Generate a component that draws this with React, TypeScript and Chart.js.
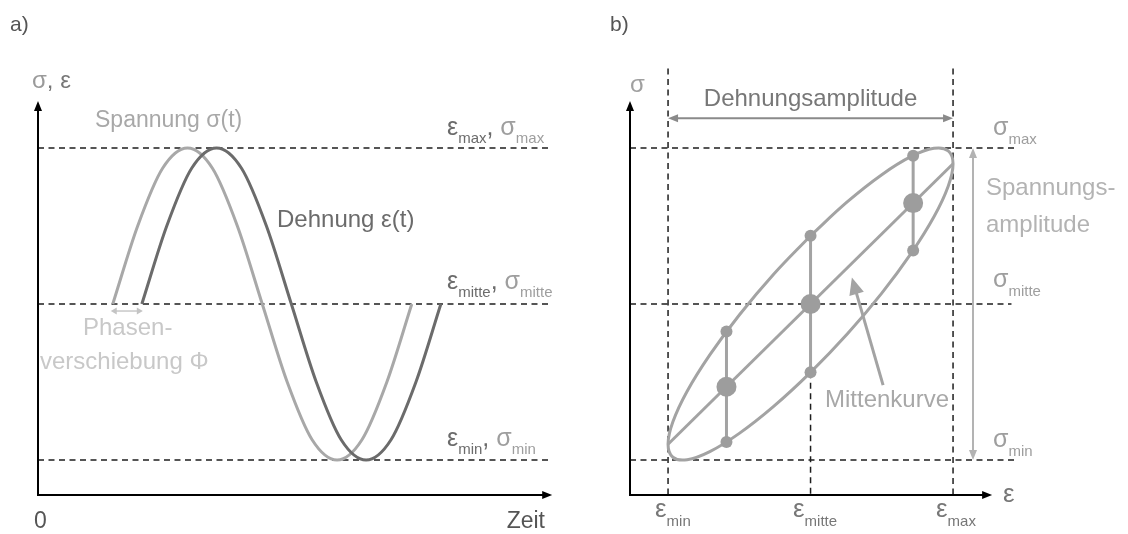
import { useEffect, useRef } from "react";
import { Chart, registerables } from "chart.js";

Chart.register(...registerables);

// ---------- a) Zeitverlauf (Zeitachse als Phasenwinkel in Grad) ----------
const zeitSpannung = [90, 120, 150, 180, 210, 240, 270, 300, 330, 360, 390, 420, 450];
const spannungVerlauf = [0, 0.5, 0.87, 1, 0.87, 0.5, 0, -0.5, -0.87, -1, -0.87, -0.5, 0];
const phasenVerschiebung = 35; // Grad, Dehnung eilt der Spannung nach
const dehnungVerlauf = [0, 0.5, 0.87, 1, 0.87, 0.5, 0, -0.5, -0.87, -1, -0.87, -0.5, 0];
const niveaus = [1, 0, -1];
const niveauNamen = ["max", "mitte", "min"];
const zeitLinienEnde = 614;

// ---------- b) Hystereseschleife sigma über epsilon ----------
const schleifeDehnung = [
  0, 0.259, 0.5, 0.707, 0.866, 0.966, 1, 0.966, 0.866, 0.707, 0.5, 0.259,
  0, -0.259, -0.5, -0.707, -0.866, -0.966, -1, -0.966, -0.866, -0.707, -0.5, -0.259, 0,
];
const schleifeSpannung = [
  0.438, 0.656, 0.829, 0.946, 0.998, 0.982, 0.899, 0.755, 0.559, 0.326, 0.07, -0.191,
  -0.438, -0.656, -0.829, -0.946, -0.998, -0.982, -0.899, -0.755, -0.559, -0.326, -0.07, 0.191, 0.438,
];
const mittenkurveDehnung = [-1, 1];
const mittenkurveSpannung = [-0.899, 0.899];
const stuetzDehnung = [-0.59, 0, 0.72];
const stuetzOben = [-0.176, 0.438, 0.951];
const stuetzMitte = [-0.53, 0, 0.647];
const stuetzUnten = [-0.884, -0.438, 0.343];
const dehnungsGrenzen = [-1, 0, 1];
const grenzenNamen = ["min", "mitte", "max"];

const FONT = '"Liberation Sans", Arial, Helvetica, sans-serif';
const DASH = [6, 4.5];
const DASH_COLOR = "#1e1e1e";
const SIGMA_GRAU = "#a8a8a8";
const EPS_GRAU = "#6b6b6b";
const OFFSET_B = 564;

type Lauf = { t: string; c: string; sub?: boolean };

function schrift(ctx: CanvasRenderingContext2D, size: number) {
  ctx.font = `400 ${size}px ${FONT}`;
}

function text(ctx: CanvasRenderingContext2D, t: string, x: number, y: number, c: string, size: number, align: CanvasTextAlign = "left") {
  schrift(ctx, size);
  ctx.fillStyle = c;
  ctx.textAlign = align;
  ctx.textBaseline = "alphabetic";
  ctx.fillText(t, x, y);
  ctx.textAlign = "left";
}

function laeufe(ctx: CanvasRenderingContext2D, x: number, y: number, runs: Lauf[], size = 22, subSize = 15, subShift = 8) {
  let cx = x;
  ctx.textAlign = "left";
  ctx.textBaseline = "alphabetic";
  for (const r of runs) {
    schrift(ctx, r.sub ? subSize : size);
    ctx.fillStyle = r.c;
    ctx.fillText(r.t, cx, r.sub ? y + subShift : y);
    cx += ctx.measureText(r.t).width;
  }
}

function spitze(ctx: CanvasRenderingContext2D, x1: number, y1: number, x2: number, y2: number, len: number, half: number) {
  const a = Math.atan2(y2 - y1, x2 - x1);
  const bx = x2 - Math.cos(a) * len;
  const by = y2 - Math.sin(a) * len;
  ctx.beginPath();
  ctx.moveTo(x2, y2);
  ctx.lineTo(bx + Math.sin(a) * half, by - Math.cos(a) * half);
  ctx.lineTo(bx - Math.sin(a) * half, by + Math.cos(a) * half);
  ctx.closePath();
  ctx.fill();
}

function pfeil(
  ctx: CanvasRenderingContext2D, x1: number, y1: number, x2: number, y2: number,
  color: string, width: number, len: number, half: number, beide = false
) {
  const a = Math.atan2(y2 - y1, x2 - x1);
  const k = len * 0.7;
  ctx.save();
  ctx.strokeStyle = color;
  ctx.fillStyle = color;
  ctx.lineWidth = width;
  ctx.setLineDash([]);
  ctx.beginPath();
  ctx.moveTo(beide ? x1 + Math.cos(a) * k : x1, beide ? y1 + Math.sin(a) * k : y1);
  ctx.lineTo(x2 - Math.cos(a) * k, y2 - Math.sin(a) * k);
  ctx.stroke();
  spitze(ctx, x1, y1, x2, y2, len, half);
  if (beide) spitze(ctx, x2, y2, x1, y1, len, half);
  ctx.restore();
}

function linie(data: { x: number; y: number }[], color: string, width: number, dash?: number[]) {
  return {
    data,
    showLine: true,
    borderColor: color,
    borderWidth: width,
    borderDash: dash ?? [],
    pointRadius: 0,
    fill: false,
    clip: false as const,
  };
}

function basisOptionen(xMin: number, xMax: number, padding: { left: number; right: number; top: number; bottom: number }) {
  return {
    responsive: false,
    animation: false as const,
    devicePixelRatio: 1,
    events: [] as any[],
    layout: { padding },
    plugins: { legend: { display: false }, tooltip: { enabled: false } },
    scales: {
      x: { type: "linear" as const, display: false, min: xMin, max: xMax },
      y: { type: "linear" as const, display: false, min: -1.224, max: 1.564 },
    },
  };
}

function konfigA(): any {
  const sigma = zeitSpannung.map((t, i) => ({ x: t, y: spannungVerlauf[i] }));
  const eps = zeitSpannung.map((t, i) => ({ x: t + phasenVerschiebung, y: dehnungVerlauf[i] }));
  const gestrichelt = niveaus.map((n) =>
    linie([{ x: 0, y: n }, { x: zeitLinienEnde, y: n }], DASH_COLOR, 1.5, DASH)
  );
  const zeichnung = {
    id: "zeitverlauf",
    afterDatasetsDraw(chart: any) {
      const ctx: CanvasRenderingContext2D = chart.ctx;
      const X = (v: number) => chart.scales.x.getPixelForValue(v);
      const Y = (v: number) => chart.scales.y.getPixelForValue(v);
      ctx.save();
      // Achsen
      pfeil(ctx, X(0), Y(-1.224) + 1, X(0), Y(1.301), "#000", 2, 10, 4);
      pfeil(ctx, X(0) - 1, Y(-1.224), X(619), Y(-1.224), "#000", 2, 10, 4);
      // Phasenverschiebung
      pfeil(ctx, X(zeitSpannung[0]) - 2, Y(0) + 7, X(zeitSpannung[0] + phasenVerschiebung) + 1, Y(0) + 7, "#c4c4c4", 1.4, 6, 3.5, true);

      text(ctx, "a)", 10, 31, "#555", 21);
      laeufe(ctx, 32, 88, [
        { t: "σ", c: "#9a9a9a" },
        { t: ", ε", c: "#777" },
      ], 24);
      text(ctx, "Spannung σ(t)", 95, 127, SIGMA_GRAU, 23);
      text(ctx, "Dehnung ε(t)", 277, 227, EPS_GRAU, 24);
      const basis = [135, 289, 446];
      niveauNamen.forEach((n, i) => {
        laeufe(ctx, 447, basis[i], [
          { t: "ε", c: EPS_GRAU },
          { t: n, c: EPS_GRAU, sub: true },
          { t: ", ", c: EPS_GRAU },
          { t: "σ", c: "#9e9e9e" },
          { t: n, c: "#9e9e9e", sub: true },
        ], 25, 15, 8);
      });
      text(ctx, "Phasen-", 83, 335, "#c8c8c8", 24);
      text(ctx, "verschiebung Φ", 40, 369, "#c8c8c8", 24);
      text(ctx, "0", 34, 528, "#555", 23);
      text(ctx, "Zeit", 545, 528, "#555", 23, "right");
      ctx.restore();
    },
  };
  return {
    type: "scatter",
    data: {
      datasets: [
        { ...linie(eps, EPS_GRAU, 3), cubicInterpolationMode: "monotone" },
        { ...linie(sigma, SIGMA_GRAU, 3), cubicInterpolationMode: "monotone" },
        ...gestrichelt,
      ],
    },
    options: basisOptionen(0, 620, { left: 38, right: 11, top: 60, bottom: 39 }),
    plugins: [zeichnung],
  };
}

function konfigB(): any {
  const schleife = schleifeDehnung.map((e, i) => ({ x: e, y: schleifeSpannung[i] }));
  const mitte = mittenkurveDehnung.map((e, i) => ({ x: e, y: mittenkurveSpannung[i] }));
  const punkte: { x: number; y: number }[] = [];
  const radien: number[] = [];
  stuetzDehnung.forEach((e, i) => {
    punkte.push({ x: e, y: stuetzOben[i] }, { x: e, y: stuetzMitte[i] }, { x: e, y: stuetzUnten[i] });
    radien.push(6, 10, 6);
  });
  const verbinder = stuetzDehnung.map((e, i) =>
    linie([{ x: e, y: stuetzOben[i] }, { x: e, y: stuetzUnten[i] }], "#a3a3a3", 3)
  );
  const horizEnden = [1.45, 1.41, 1.45];
  const horizontal = niveaus.map((n, i) =>
    linie([{ x: -1.267, y: n }, { x: horizEnden[i], y: n }], DASH_COLOR, 1.5, DASH)
  );
  const vertikal = dehnungsGrenzen.map((e) =>
    linie([{ x: e, y: e === 0 ? stuetzUnten[1] : 1.51 }, { x: e, y: -1.224 }], DASH_COLOR, 1.5, DASH)
  );
  const zeichnung = {
    id: "hysterese",
    afterDatasetsDraw(chart: any) {
      const ctx: CanvasRenderingContext2D = chart.ctx;
      const X = (v: number) => chart.scales.x.getPixelForValue(v) + OFFSET_B;
      const Y = (v: number) => chart.scales.y.getPixelForValue(v);
      ctx.save();
      ctx.translate(-OFFSET_B, 0);
      // Achsen
      pfeil(ctx, X(-1.267), Y(-1.224) + 1, X(-1.267), Y(1.301), "#000", 2, 10, 4);
      pfeil(ctx, X(-1.267) - 1, Y(-1.224), X(1.274), Y(-1.224), "#000", 2, 10, 4);
      // Amplituden
      pfeil(ctx, X(-1), Y(1.19), X(1), Y(1.19), "#8a8a8a", 2, 10, 4, true);
      pfeil(ctx, X(1.14), Y(1), X(1.14), Y(-1), "#b3b3b3", 2, 10, 4, true);
      // Hinweis auf die Mittenkurve
      pfeil(ctx, X(0.509), Y(-0.52), X(0.29), Y(0.17), "#a3a3a3", 3, 17, 7.5);

      text(ctx, "b)", 610, 31, "#555", 21);
      text(ctx, "σ", 630, 92, "#a0a0a0", 24);
      text(ctx, "Dehnungsamplitude", X(0), 106, "#777", 24, "center");
      text(ctx, "Spannungs-", 986, 195, "#b3b3b3", 24);
      text(ctx, "amplitude", 986, 232, "#b3b3b3", 24);
      const sigmaBasis = [135, 287, 447];
      niveauNamen.forEach((n, i) => {
        laeufe(ctx, 993, sigmaBasis[i], [
          { t: "σ", c: "#9e9e9e" },
          { t: n, c: "#9e9e9e", sub: true },
        ], 25, 15, 9);
      });
      const epsX = [655, 793, 936];
      grenzenNamen.forEach((n, i) => {
        laeufe(ctx, epsX[i], 517, [
          { t: "ε", c: "#777" },
          { t: n, c: "#777", sub: true },
        ], 26, 15, 9);
      });
      text(ctx, "ε", 1003, 502, "#777", 26);
      text(ctx, "Mittenkurve", 825, 407, "#a8a8a8", 24);
      ctx.restore();
    },
  };
  return {
    type: "scatter",
    data: {
      datasets: [
        {
          data: punkte,
          pointRadius: radien,
          pointBackgroundColor: "#9d9d9d",
          pointBorderWidth: 0,
          showLine: false,
          clip: false,
        },
        ...verbinder,
        linie(mitte, "#a3a3a3", 3),
        { ...linie(schleife, "#a3a3a3", 3), tension: 0.4 },
        ...horizontal,
        ...vertikal,
      ],
    },
    options: basisOptionen(-1.267, 1.54, { left: 66, right: 98, top: 60, bottom: 39 }),
    plugins: [zeichnung],
  };
}

export default function App() {
  const refA = useRef<HTMLCanvasElement>(null);
  const refB = useRef<HTMLCanvasElement>(null);
  useEffect(() => {
    const a = new Chart(refA.current as HTMLCanvasElement, konfigA());
    const b = new Chart(refB.current as HTMLCanvasElement, konfigB());
    return () => {
      a.destroy();
      b.destroy();
    };
  }, []);
  return (
    <div style={{ position: "fixed", left: 0, top: 0, width: 1128, height: 534, background: "#fff" }}>
      <canvas ref={refA} width={564} height={534} style={{ position: "absolute", left: 0, top: 0, width: 564, height: 534 }} />
      <canvas ref={refB} width={564} height={534} style={{ position: "absolute", left: OFFSET_B, top: 0, width: 564, height: 534 }} />
    </div>
  );
}
